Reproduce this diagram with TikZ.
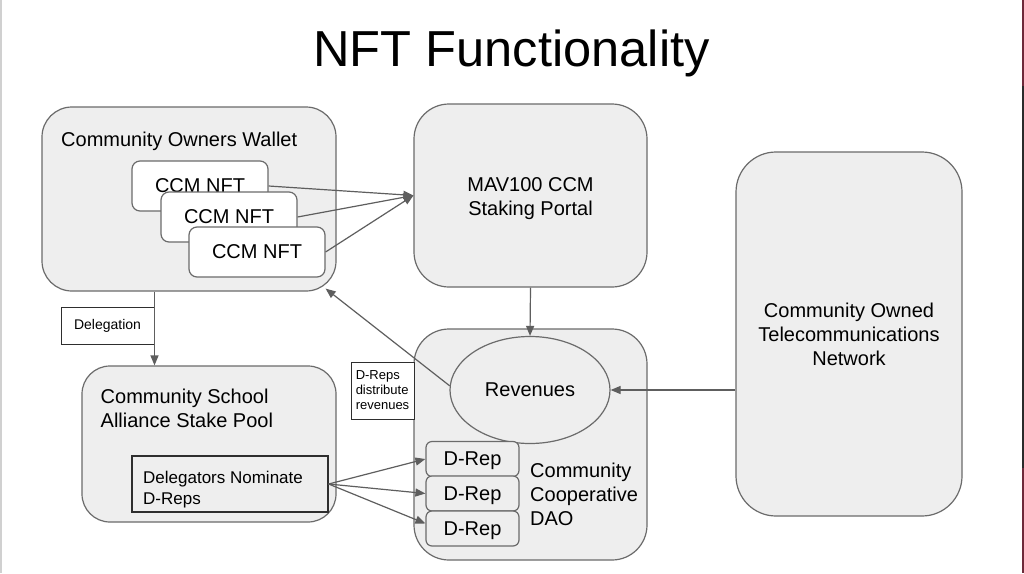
\documentclass[tikz,border=0pt]{standalone}
\usepackage{fontspec}
\setmainfont{Liberation Sans}
\usetikzlibrary{arrows.meta,shapes.geometric,calc}
\definecolor{boxfill}{HTML}{EEEEEE}
\definecolor{boxline}{HTML}{6B6B6B}
\definecolor{arrline}{HTML}{5E5E5E}
\definecolor{lblline}{HTML}{2E2E2E}
\definecolor{edgered}{HTML}{6E2A3A}
\definecolor{edgedark}{HTML}{2B2B2B}
\definecolor{edgegray}{HTML}{D0D0D0}
\begin{document}
\begin{tikzpicture}[x=1pt,y=-1pt,
  bigbox/.style={draw=boxline, fill=boxfill, line width=1.2pt, inner sep=0pt,
    font=\fontsize{20}{24}\selectfont, align=center},
  nftbox/.style={draw=boxline, fill=white, line width=1.2pt, inner sep=0pt,
    rounded corners=8pt, minimum width=136pt, minimum height=50pt,
    font=\fontsize{20}{24}\selectfont},
  drepbox/.style={draw=boxline, fill=boxfill, line width=1.2pt, inner sep=0pt,
    rounded corners=6pt, minimum width=93pt, minimum height=35pt, text depth=0pt,
    font=\fontsize{20}{24}\selectfont},
  lblbox/.style={draw=lblline, fill=white, line width=1pt, inner sep=0pt, align=left},
  txt/.style={inner sep=0pt, font=\fontsize{20}{24}\selectfont, align=left},
  arr/.style={draw=arrline, line width=1.2pt, -{Triangle[length=10pt,width=8pt]}}
]
\fill[white] (0,0) rectangle (1024,573);
\useasboundingbox (0,0) rectangle (1024,573);
\fill[edgegray] (0,0) rectangle (1.5,573);
\fill[edgedark] (1022,0) rectangle (1024,573);
\fill[edgered] (1022,0) rectangle (1024,86);
\fill[edgered] (1022,468) rectangle (1024,573);

% title
\node[inner sep=0pt, anchor=base, font=\fontsize{50.6}{60}\selectfont] (title) at (511.5,66) {NFT Functionality};

% wallet
\node[bigbox, rounded corners=30pt, minimum width=294pt, minimum height=184pt] (wallet) at (189,199) {};
\node[txt, anchor=base west] (wallettxt) at (61,146) {Community Owners Wallet};
\node[nftbox] (nft1) at (200,186) {CCM NFT};
\node[nftbox] (nft2) at (229,217) {CCM NFT};
\node[nftbox] (nft3) at (257,252) {CCM NFT};

% portal
\node[bigbox, rounded corners=35pt, minimum width=233pt, minimum height=183pt] (portal) at (530.5,195.5) {};
\node[txt, align=center] (portaltxt) at (530.5,198.5) {MAV100 CCM\\Staking Portal};

% telecom
\node[bigbox, rounded corners=40pt, minimum width=226pt, minimum height=364pt] (telecom) at (849,334) {Community Owned\\Telecommunications\\Network};

% pool
\node[bigbox, rounded corners=28pt, minimum width=254pt, minimum height=156pt] (pool) at (209,444) {};
\node[txt, anchor=north west] (pooltxt) at (100.5,389) {Community School\\Alliance Stake Pool};
\node[draw=lblline, fill=boxfill, line width=1.2pt, inner sep=0pt, minimum width=196pt, minimum height=56pt] (deleg) at (230,484) {};
\node[inner sep=0pt, anchor=north west, align=left, font=\fontsize{17}{21}\selectfont] (delegtxt) at (143,471) {Delegators Nominate\\D-Reps};

% DAO
\node[bigbox, rounded corners=35pt, minimum width=233pt, minimum height=231pt] (dao) at (530.5,444.5) {};
\node[ellipse, draw=boxline, fill=boxfill, line width=1.2pt, inner sep=0pt, minimum width=160pt, minimum height=107pt, text height=13pt, text depth=0pt, font=\fontsize{20}{24}\selectfont] (rev) at (530,390) {Revenues};
\node[drepbox] (drep1) at (472.5,459) {D-Rep};
\node[drepbox] (drep2) at (472.5,493.5) {D-Rep};
\node[drepbox] (drep3) at (472.5,528.5) {D-Rep};
\node[txt, anchor=north west] (daotxt) at (530,462.5) {Community\\Cooperative\\DAO};

% labels
\node[lblbox, minimum width=93pt, minimum height=37pt, font=\fontsize{14}{17}\selectfont] (delegation) at (107.5,325.5) {Delegation};
\node[lblbox, minimum width=63pt, minimum height=57pt, font=\fontsize{13}{15}\selectfont] (drlabel) at (382.5,390.5) {D-Reps\\distribute\\revenues};

% connectors
\draw[arr] (nft1.east) -- (portal.west);
\draw[arr] (nft2.east) -- (portal.west);
\draw[arr] (nft3.east) -- (portal.west);
\draw[arr] (delegation.east |- wallet.south) -- (delegation.east |- pool.north);
\draw[arr] (portal.south) -- (rev.north);
\draw[arr] (telecom.west |- rev.east) -- (rev.east);
\draw[arr] (rev.177) -- ($(wallet.south east)+(-11,-3)$);
\draw[arr] (deleg.east) -- (drep1.west);
\draw[arr] (deleg.east) -- (drep2.west);
\draw[arr] (deleg.east) -- ($(drep3.west)+(0,-5)$);
\end{tikzpicture}
\end{document}
